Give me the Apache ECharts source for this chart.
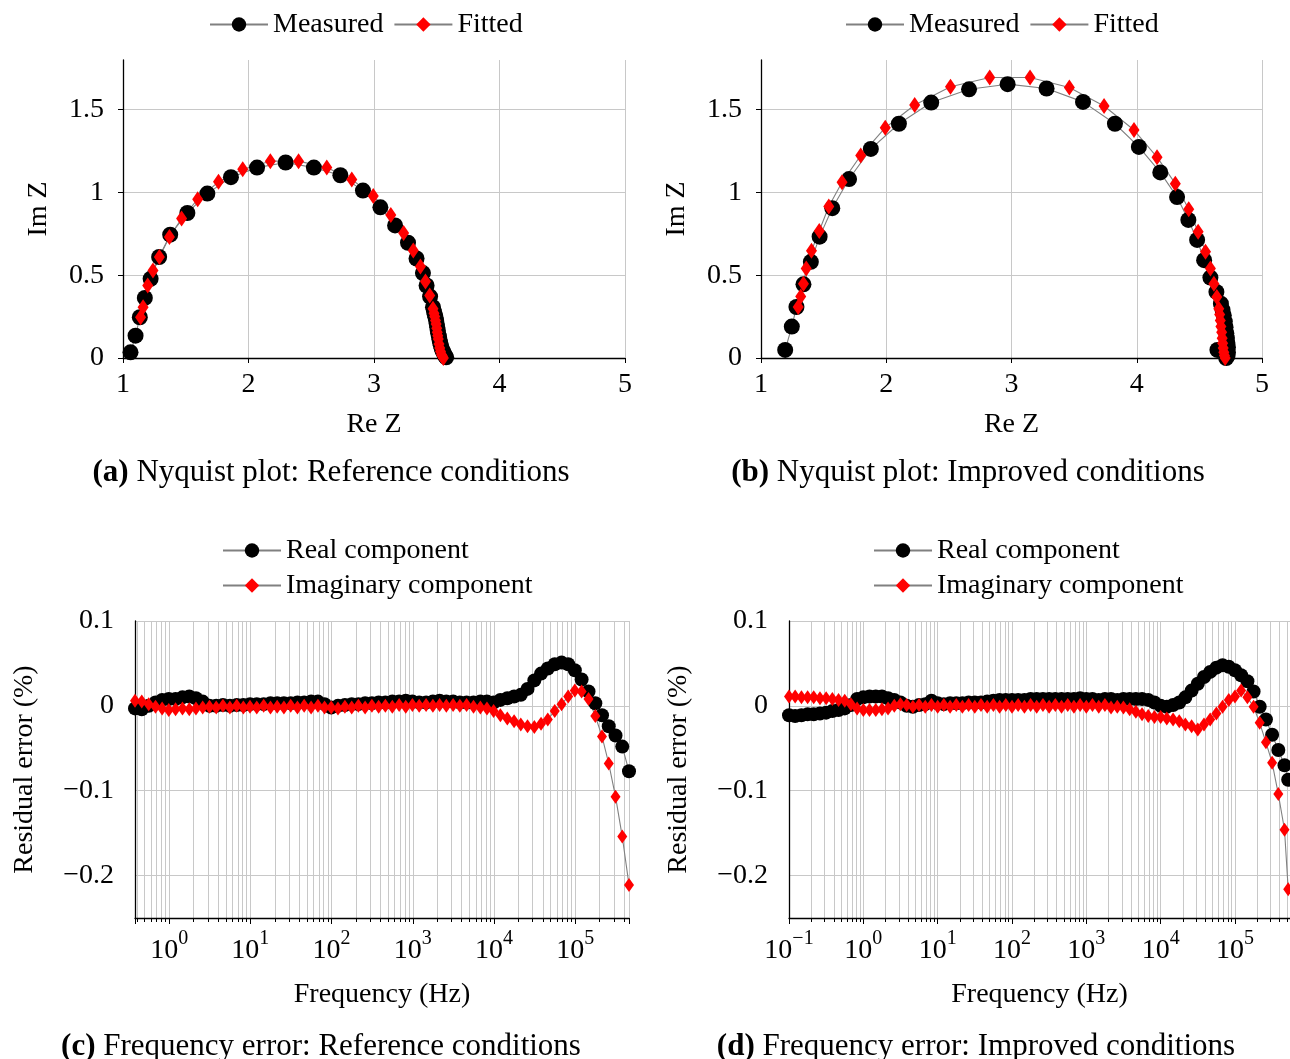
<!DOCTYPE html>
<html lang="en">
<head>
<meta charset="UTF-8">
<script src="https://cdn.jsdelivr.net/npm/echarts@6.0.0/dist/echarts.min.js"></script>
<title>Impedance fit</title>
</head>
<body style="margin: 0">
<div id="container" style="width: 1290px; height: 1059px"></div>
<script>
// ---- Nyquist, reference conditions (a) ----
var reMeasA = [1.06,1.10,1.134,1.174,1.22,1.288,1.376,1.513,1.672,1.86,2.068,2.296,2.521,2.732,2.912,3.051,3.168,3.271,3.339,3.390,3.419,3.447,3.470,3.478,3.485,3.490,3.495,3.500,3.504,3.508,3.512,3.518,3.522,3.527,3.533,3.540,3.547,3.553,3.560,3.567,3.575];
var imMeasA = [0.034,0.135,0.246,0.363,0.478,0.61,0.745,0.876,0.993,1.092,1.150,1.181,1.150,1.104,1.011,0.910,0.801,0.696,0.601,0.513,0.438,0.371,0.307,0.28,0.26,0.246,0.225,0.205,0.186,0.165,0.148,0.129,0.11,0.092,0.075,0.058,0.044,0.034,0.022,0.012,0.004];
var reFitA = [1.14,1.16,1.197,1.239,1.29,1.37,1.467,1.595,1.761,1.954,2.174,2.399,2.624,2.823,2.994,3.134,3.236,3.313,3.37,3.41,3.444,3.47,3.478,3.484,3.49,3.495,3.50,3.504,3.508,3.512,3.518,3.524,3.53,3.538,3.545,3.553];
var imFitA = [0.246,0.307,0.438,0.529,0.61,0.731,0.842,0.959,1.064,1.140,1.189,1.189,1.150,1.078,0.979,0.864,0.755,0.650,0.553,0.462,0.377,0.297,0.27,0.25,0.226,0.205,0.18,0.155,0.135,0.115,0.085,0.06,0.04,0.02,0.01,0.0];

// ---- Nyquist, improved conditions (b) ----
var reMeasB = [1.193,1.246,1.283,1.339,1.398,1.468,1.569,1.703,1.877,2.101,2.359,2.661,2.969,3.28,3.571,3.826,4.017,4.188,4.322,4.412,4.482,4.538,4.588,4.636,4.672,4.685,4.695,4.703,4.709,4.715,4.72,4.724,4.728,4.728,4.725,4.714,4.644];
var imMeasB = [0.049,0.19,0.308,0.445,0.581,0.733,0.905,1.081,1.263,1.415,1.543,1.623,1.654,1.628,1.547,1.415,1.275,1.121,0.972,0.834,0.713,0.591,0.486,0.399,0.328,0.29,0.257,0.22,0.186,0.15,0.121,0.09,0.065,0.035,0.014,0.0,0.049];
var reFitB = [1.297,1.317,1.339,1.361,1.403,1.465,1.541,1.647,1.796,1.992,2.227,2.513,2.826,3.148,3.462,3.739,3.978,4.162,4.308,4.415,4.490,4.549,4.588,4.616,4.639,4.655,4.662,4.667,4.672,4.678,4.682,4.686,4.690,4.695,4.700,4.706];
var imFitB = [0.308,0.372,0.449,0.540,0.648,0.767,0.915,1.061,1.223,1.391,1.528,1.638,1.694,1.694,1.634,1.522,1.377,1.213,1.053,0.899,0.763,0.642,0.540,0.449,0.368,0.298,0.262,0.227,0.19,0.156,0.12,0.089,0.06,0.034,0.015,0.0];

// ---- residual errors, reference conditions (c) ----
var freqC = [0.38,0.46,0.56,0.68,0.82,0.99,1.2,1.46,1.77,2.14,2.59,3.14,
    3.8,4.6,5.6,6.8,8.2,9.9,12,14.6,17.7,21.4,25.9,31.4,
    38,46,56,68,82,99,120,146,177,214,259,314,
    380,460,560,680,820,990,1200,1460,1770,2140,2590,3140,
    3800,4600,5600,6800,8200,9900,12000,14600,17700,21400,25900,31400,
    38000,46000,56000,68000,82000,99000,120000,146000,177000,214000,259000,314000,
    380000,460000];
var realC = [-0.003,-0.004,0.000,0.004,0.007,0.008,0.008,0.010,0.011,0.009,0.005,0.000,
    0.000,0.001,0.000,0.001,0.001,0.002,0.002,0.002,0.003,0.003,0.003,0.003,
    0.004,0.004,0.005,0.005,0.002,-0.002,0.000,0.001,0.002,0.002,0.003,0.003,
    0.004,0.004,0.005,0.005,0.006,0.005,0.004,0.004,0.005,0.006,0.005,0.005,
    0.004,0.004,0.004,0.005,0.005,0.004,0.007,0.009,0.011,0.013,0.020,0.030,
    0.038,0.044,0.049,0.051,0.049,0.042,0.031,0.017,0.003,-0.011,-0.024,-0.035,
    -0.048,-0.077];
var imagC = [0.006,0.005,0.002,-0.001,-0.003,-0.005,-0.004,-0.003,-0.004,-0.003,-0.002,-0.001,
    -0.002,0.000,-0.002,0.000,-0.002,-0.001,-0.002,0.000,-0.002,-0.001,-0.002,0.000,
    -0.002,0.000,-0.002,0.000,-0.002,-0.002,-0.003,-0.001,-0.002,0.000,-0.002,0.000,
    -0.001,0.000,-0.001,0.001,-0.001,0.001,0.000,0.001,0.000,0.001,0.000,0.001,
    0.000,0.001,-0.001,-0.002,-0.003,-0.006,-0.011,-0.015,-0.018,-0.022,-0.024,-0.025,
    -0.021,-0.016,-0.006,0.002,0.011,0.018,0.017,0.008,-0.012,-0.036,-0.068,-0.107,
    -0.154,-0.211];

// ---- residual errors, improved conditions (d) ----
var freqD = [0.1,0.121,0.147,0.178,0.215,0.261,0.316,0.383,0.464,0.562,0.681,0.825,
    1,1.21,1.47,1.78,2.15,2.61,3.16,3.83,4.64,5.62,6.81,8.25,
    10,12.1,14.7,17.8,21.5,26.1,31.6,38.3,46.4,56.2,68.1,82.5,
    100,121,147,178,215,261,316,383,464,562,681,825,
    1000,1210,1470,1780,2150,2610,3160,3830,4640,5620,6810,8250,
    10000,12100,14700,17800,21500,26100,31600,38300,46400,56200,68100,82500,
    100000,121000,147000,178000,215000,261000,316000,383000,464000,520000];
var realD = [-0.011,-0.012,-0.011,-0.010,-0.010,-0.009,-0.008,-0.006,-0.005,-0.003,0.001,0.008,
    0.010,0.011,0.011,0.011,0.009,0.007,0.004,0.000,-0.001,0.001,0.002,0.006,
    0.003,0.002,0.003,0.003,0.003,0.004,0.004,0.004,0.005,0.006,0.007,0.007,
    0.007,0.007,0.007,0.008,0.008,0.008,0.008,0.008,0.008,0.008,0.008,0.009,
    0.008,0.008,0.007,0.008,0.008,0.007,0.008,0.008,0.008,0.008,0.007,0.004,
    0.000,-0.001,0.001,0.004,0.010,0.018,0.026,0.034,0.040,0.045,0.048,0.046,
    0.042,0.036,0.029,0.017,-0.001,-0.016,-0.034,-0.052,-0.070,-0.087];
var imagD = [0.011,0.011,0.010,0.010,0.010,0.009,0.009,0.008,0.007,0.006,0.002,-0.003,
    -0.005,-0.005,-0.005,-0.004,-0.003,0.000,0.002,0.001,-0.001,0.001,-0.001,0.001,
    -0.001,0.001,-0.001,0.001,-0.001,0.001,-0.001,0.001,-0.001,0.001,-0.001,0.001,
    -0.001,0.001,-0.001,0.001,-0.001,0.001,-0.001,0.001,-0.001,0.001,-0.001,0.001,
    -0.001,0.001,-0.001,0.001,-0.002,-0.001,-0.002,-0.004,-0.007,-0.010,-0.012,-0.013,
    -0.013,-0.015,-0.016,-0.018,-0.022,-0.024,-0.028,-0.022,-0.016,-0.009,-0.001,0.007,
    0.011,0.018,0.010,-0.001,-0.020,-0.043,-0.067,-0.104,-0.146,-0.216];

var FONT = 'Liberation Serif';
var GRIDC = '#c8c8c8';
var LINEC = '#808080';

function pairs(xs, ys) {
    return xs.map(function (x, i) { return [x, ys[i]]; });
}

function txt(size) {
    return { fontFamily: FONT, fontSize: size, color: '#000' };
}

var axisLineStyle = { show: true, onZero: false, lineStyle: { color: '#000', width: 1.3 } };

function nyqX(gi) {
    return {
        type: 'value', gridIndex: gi, min: 1, max: 5, interval: 1,
        name: 'Re Z', nameLocation: 'middle', nameGap: 53, nameTextStyle: txt(28),
        axisLine: axisLineStyle,
        axisTick: { show: true, length: 5, lineStyle: { color: '#000' } },
        axisLabel: Object.assign({ margin: 13 }, txt(28)),
        splitLine: { show: true, showMinLine: false, lineStyle: { color: GRIDC, width: 1 } }
    };
}

function nyqY(gi) {
    return {
        type: 'value', gridIndex: gi, min: 0, max: 1.8, interval: 0.5,
        name: 'Im Z', nameLocation: 'middle', nameRotate: 90, nameGap: 70, nameTextStyle: txt(28),
        axisLine: axisLineStyle,
        axisTick: { show: true, length: 5, lineStyle: { color: '#000' } },
        axisLabel: Object.assign({ margin: 19, showMaxLabel: false }, txt(28)),
        splitLine: { show: true, showMinLine: false, showMaxLine: false, lineStyle: { color: GRIDC, width: 1 } }
    };
}

// 10^n tick labels, only on whole decades
function decadeLabel(v) {
    var e = Math.log10(v);
    var r = Math.round(e);
    if (Math.abs(e - r) > 1e-6) return '';
    return '{b|10}{s|' + (r < 0 ? '\u2212' + (-r) : r) + '}';
}

function freqX(gi, min, max) {
    return {
        type: 'log', logBase: 10, gridIndex: gi, min: min, max: max,
        name: 'Frequency (Hz)', nameLocation: 'middle', nameGap: 63, nameTextStyle: txt(28),
        axisLine: axisLineStyle,
        axisTick: { show: true, length: 6, lineStyle: { color: '#000' } },
        minorTick: { show: true, splitNumber: 9, length: 4, lineStyle: { color: '#000' } },
        axisLabel: {
            margin: 11, formatter: decadeLabel,
            rich: {
                b: { fontFamily: FONT, fontSize: 28, color: '#000', verticalAlign: 'bottom', lineHeight: 36 },
                s: { fontFamily: FONT, fontSize: 20, color: '#000', verticalAlign: 'top', lineHeight: 20 }
            }
        },
        splitLine: { show: true, showMinLine: false, lineStyle: { color: GRIDC, width: 1 } },
        minorSplitLine: { show: true, lineStyle: { color: GRIDC, width: 1 } }
    };
}

function errLabel(v) {
    var t = Math.round(v * 100);
    if (t % 10 !== 0) return '';
    if (t === 0) return '0';
    return (t < 0 ? '\u2212' : '') + (Math.abs(t) / 100);
}

function errY(gi) {
    return {
        type: 'value', gridIndex: gi, min: -0.25, max: 0.1, interval: 0.05,
        name: 'Residual error (%)', nameLocation: 'middle', nameRotate: 90, nameGap: 96, nameTextStyle: txt(28),
        axisLine: axisLineStyle,
        axisTick: { show: false },
        axisLabel: Object.assign({ margin: 21, formatter: errLabel }, txt(28)),
        // every other line (the 0.05 steps) is transparent
        splitLine: { show: true, lineStyle: { color: ['rgba(0,0,0,0)', GRIDC], width: 1 } }
    };
}

function circles(name, gi, data, size) {
    return {
        name: name, type: 'line', xAxisIndex: gi, yAxisIndex: gi, data: data,
        symbol: 'circle', symbolSize: size, showAllSymbol: true,
        itemStyle: { color: '#000' },
        lineStyle: { color: LINEC, width: 1.1 }
    };
}

function diamonds(name, gi, data, size) {
    return {
        name: name, type: 'line', xAxisIndex: gi, yAxisIndex: gi, data: data,
        symbol: 'diamond', symbolSize: size, showAllSymbol: true,
        itemStyle: { color: '#ff0000' },
        lineStyle: { color: LINEC, width: 1.1 }
    };
}

function legendAt(left, top, names, orient) {
    return {
        left: left, top: top, orient: orient || 'horizontal', data: names,
        itemWidth: 58, itemHeight: 18, itemGap: orient === 'vertical' ? 4 : 10,
        padding: 0, textStyle: Object.assign({ lineHeight: 31 }, txt(28))
    };
}

function caption(tag, text, cx, top) {
    return {
        text: '{b|' + tag + '} ' + text, left: cx, top: top, textAlign: 'center',
        textStyle: {
            fontFamily: FONT, fontSize: 31, fontWeight: 'normal', color: '#000',
            rich: { b: { fontFamily: FONT, fontSize: 31, fontWeight: 'bold', color: '#000' } }
        }
    };
}

var myChart = echarts.init(document.getElementById('container'));

var option = {
    animation: false,
    backgroundColor: '#fff',
    title: [
        caption('(a)', 'Nyquist plot: Reference conditions', 326, 452),
        caption('(b)', 'Nyquist plot: Improved conditions', 963, 452),
        caption('(c)', 'Frequency error: Reference conditions', 316, 1026),
        caption('(d)', 'Frequency error: Improved conditions', 971, 1026)
    ],
    legend: [
        legendAt(209, 9, ['Measured', 'Fitted']),
        legendAt(845, 9, ['Measured', 'Fitted']),
        legendAt(222, 535, ['Real component', 'Imaginary component'], 'vertical'),
        legendAt(873, 535, ['Real component', 'Imaginary component'], 'vertical')
    ],
    grid: [
        { left: 123, top: 60, width: 502, height: 298, outerBoundsMode: 'none' },
        { left: 761, top: 60, width: 501, height: 298, outerBoundsMode: 'none' },
        { left: 135, top: 621, width: 494, height: 297, outerBoundsMode: 'none' },
        { left: 789, top: 621, width: 501, height: 297, outerBoundsMode: 'none' }
    ],
    xAxis: [nyqX(0), nyqX(1), freqX(2, 0.38, 460000), freqX(3, 0.1, 550000)],
    yAxis: [nyqY(0), nyqY(1), errY(2), errY(3)],
    series: [
        circles('Measured', 0, pairs(reMeasA, imMeasA), 16),
        diamonds('Fitted', 0, pairs(reFitA, imFitA), [11, 16]),
        circles('Measured', 1, pairs(reMeasB, imMeasB), 16),
        diamonds('Fitted', 1, pairs(reFitB, imFitB), [11, 16]),
        circles('Real component', 2, pairs(freqC, realC), 14),
        diamonds('Imaginary component', 2, pairs(freqC, imagC), [10, 14]),
        circles('Real component', 3, pairs(freqD, realD), 14),
        diamonds('Imaginary component', 3, pairs(freqD, imagD), [10, 14])
    ]
};

myChart.setOption(option);
</script>
</body>
</html>
